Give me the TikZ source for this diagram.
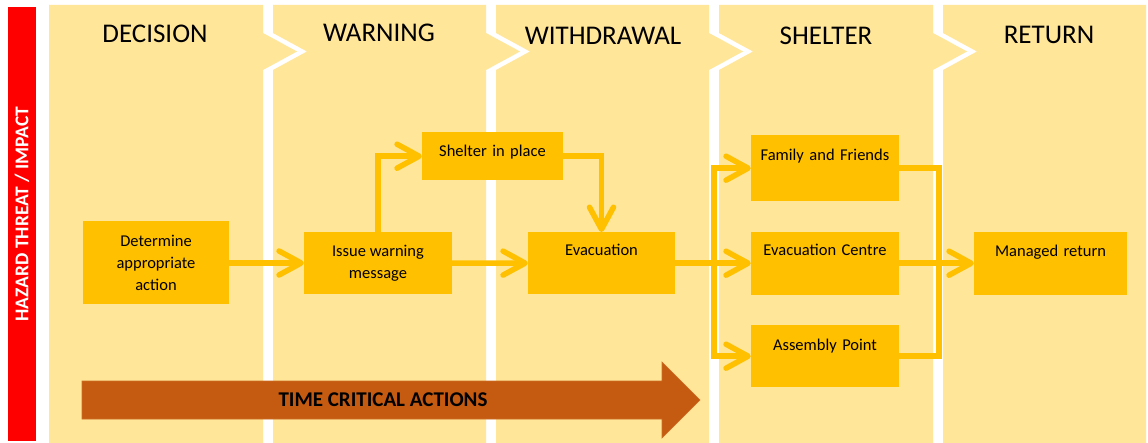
\documentclass[tikz,border=0pt]{standalone}
\usepackage{fontspec}
\setmainfont{Carlito}
\usetikzlibrary{arrows.meta}
\definecolor{panel}{HTML}{FFE699}
\definecolor{gold}{HTML}{FFC000}
\definecolor{rust}{HTML}{C55A11}
\definecolor{hazred}{HTML}{FF0000}
\begin{document}
\begin{tikzpicture}[x=1pt,y=-1pt,
  panelfill/.style={fill=panel},
  box/.style={fill=gold, inner sep=0pt, align=center, font=\fontsize{16.5}{22}\selectfont},
  titletext/.style={font=\fontsize{27}{30}\selectfont, anchor=base},
  flow/.style={draw=gold, line width=5.5pt, -{Straight Barb[length=22pt,width=24pt,round]}},
  conn/.style={draw=gold, line width=5.5pt}
]
\useasboundingbox (0,0) rectangle (1148,443);
\fill[white] (0,0) rectangle (1148,443);

% hazard bar
\fill[hazred] (8,7) rectangle (36,441);
\node[rotate=90, text=white, font=\bfseries\fontsize{19.5}{22}\selectfont] (haz) at (22,214) {HAZARD THREAT / IMPACT};

% panels
\fill[panelfill] (49,5) -- (263,5) -- (263,33) -- (297,51.5) -- (263,70) -- (263,443) -- (49,443) -- cycle;
\foreach \L/\R in {273/486, 496/709, 719/933}{
  \fill[panelfill] (\L,5) -- (\R,5) -- (\R,33) -- ({\R+34},51.5) -- (\R,70) -- (\R,443)
     -- (\L,443) -- (\L,70) -- ({\L+34},51.5) -- (\L,33) -- cycle;
}
\fill[panelfill] (943,5) -- (1146,5) -- (1146,443) -- (943,443) -- (943,70) -- (977,51.5) -- (943,33) -- cycle;

% titles
\node[titletext] (t1) at (155,43) {DECISION};
\node[titletext] (t2) at (379,42) {WARNING};
\node[titletext] (t3) at (603,45) {WITHDRAWAL};
\node[titletext] (t4) at (826,45) {SHELTER};
\node[titletext] (t5) at (1049,44) {RETURN};

% time critical arrow
\fill[rust, draw=rust!85!panel, line width=0.6pt] (82,381) -- (662,381) -- (662,362) -- (700,400) -- (662,438) -- (662,419) -- (82,419) -- cycle;
\node[font=\bfseries\fontsize{21}{24}\selectfont] (tca) at (383,400) {TIME CRITICAL ACTIONS};

% boxes
\node[box, minimum width=146pt, minimum height=83pt] (det) at (156,263) {Determine\\appropriate\\action};
\node[box, minimum width=148pt, minimum height=62pt] (iss) at (378,263) {Issue warning\\message};
\node[box, text width=147pt, text height=23.5pt, text depth=38.5pt, anchor=north] (evac) at (601.5,232) {Evacuation};
\node[box, text width=141pt, text height=24pt, text depth=24pt, anchor=north] (sip) at (492.5,132) {Shelter in place};
\node[box, text width=148pt, text height=25.5pt, text depth=40.5pt, anchor=north] (fam) at (825,135) {Family and Friends};
\node[box, text width=148pt, text height=24pt, text depth=39pt, anchor=north] (evc) at (825,231.5) {Evacuation Centre};
\node[box, text width=148pt, text height=25.5pt, text depth=36.5pt, anchor=north] (asm) at (825,325) {Assembly Point};
\node[box, text width=153pt, text height=25pt, text depth=38pt, anchor=north] (mr) at (1050.5,231.5) {Managed return};

% connectors
\draw[flow] (det) -- (iss);
\draw[flow] (iss) -- (evac);
\draw[flow] (iss.north) |- (sip.west);
\draw[flow] (sip.east) -| (evac.north);
\draw[flow] (evac) -- (evc);
\coordinate (lbus) at (714,263);
\draw[flow] (lbus) |- (fam.west);
\draw[flow] (lbus) |- (asm.west);
\coordinate (rbus) at (939,263);
\draw[conn] (fam.east) -| (rbus) |- (asm.east);
\draw[flow] (evc) -- (mr);
\end{tikzpicture}
\end{document}
